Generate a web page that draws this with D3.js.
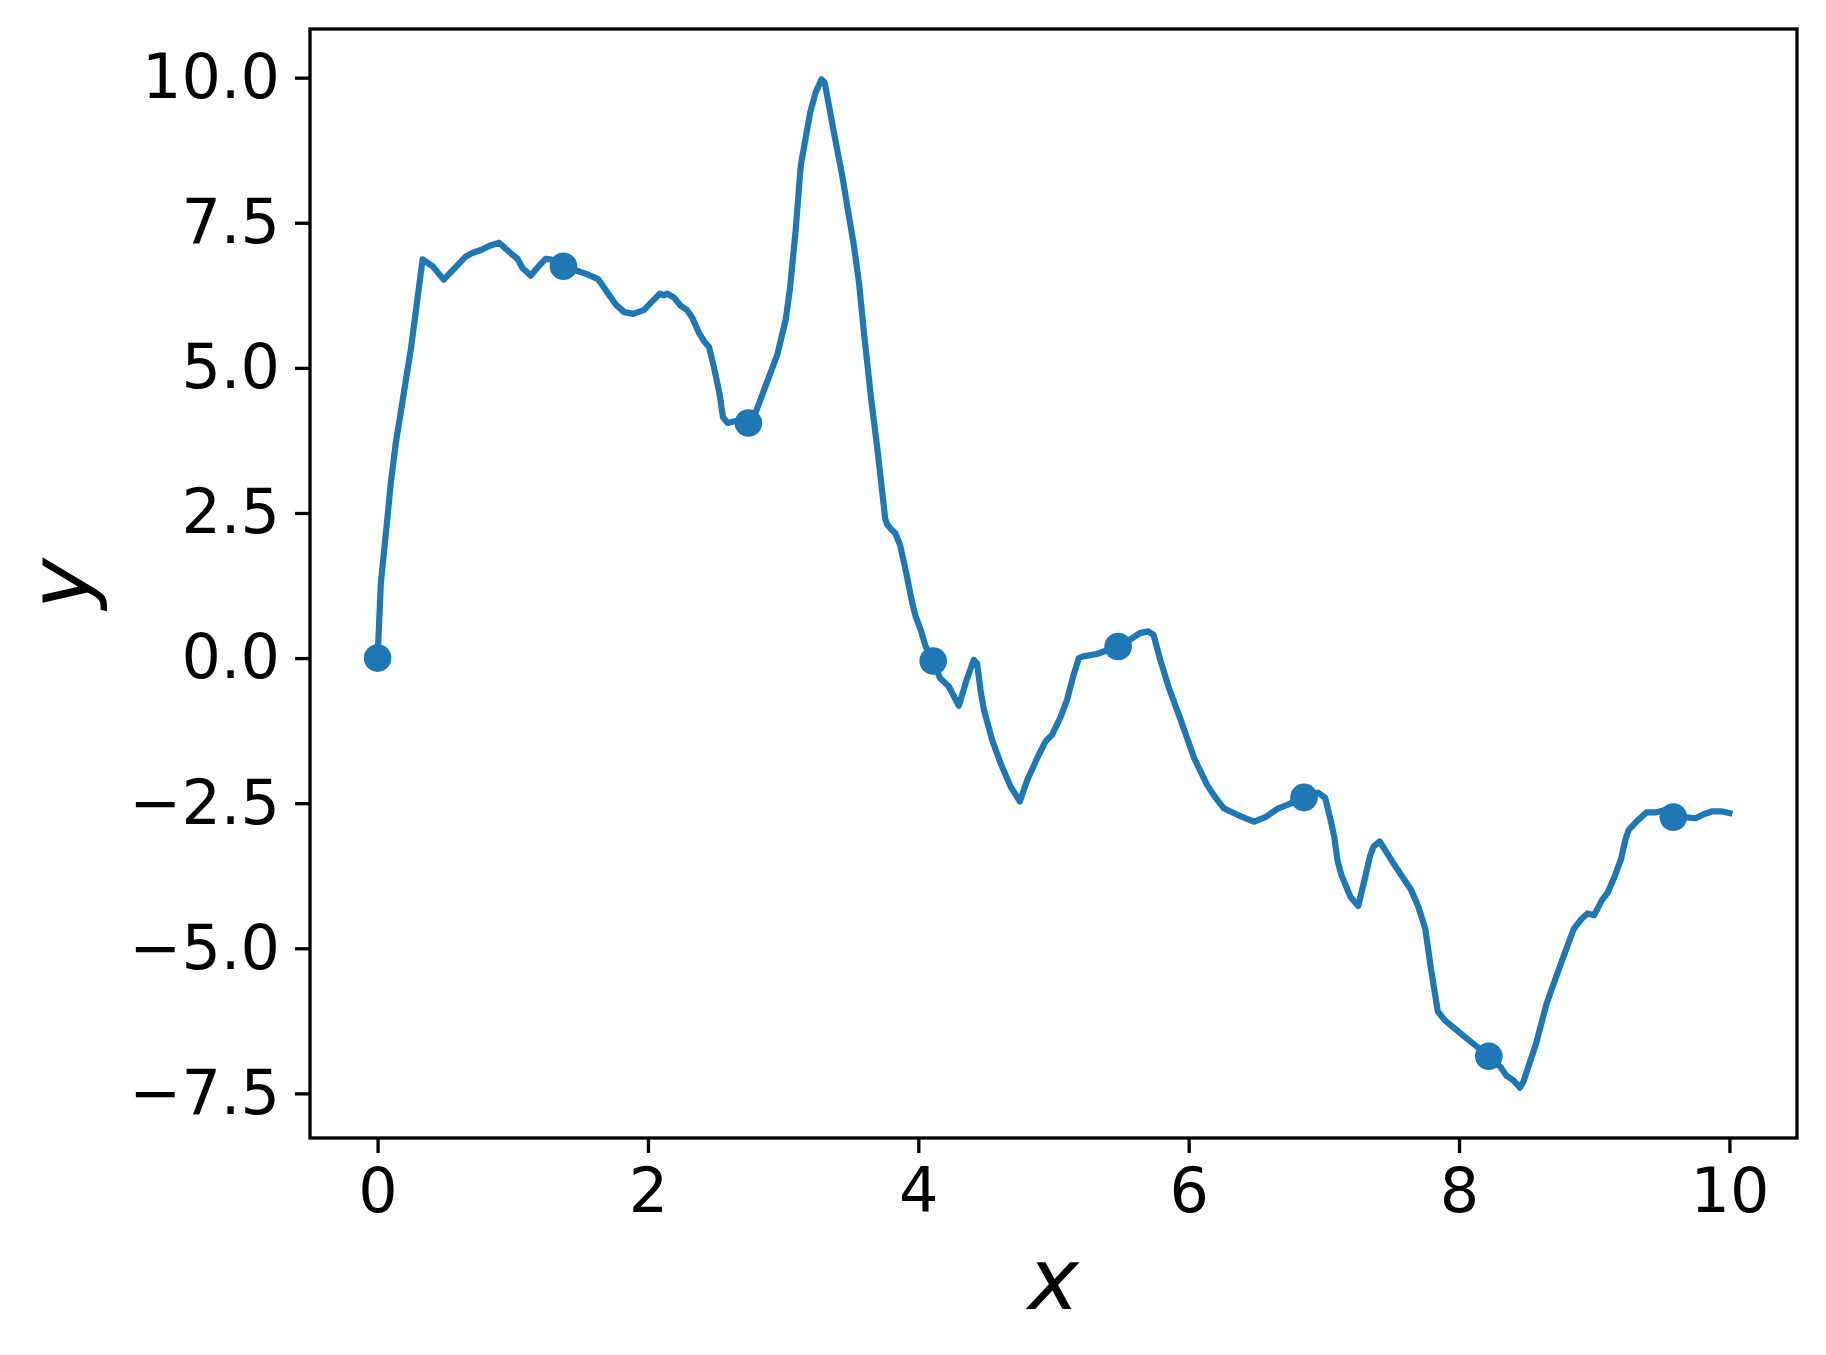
<!DOCTYPE html>
<html>
<head>
<meta charset="utf-8">
<script src="https://cdn.jsdelivr.net/npm/d3@7"></script>
<style>
  body { margin: 0; background: #fff; }
  svg { display: block; font-family: "DejaVu Sans", sans-serif; }
</style>
</head>
<body>
<svg></svg>
<script>
// Data

let lineX = [0, 0.024, 0.069, 0.098, 0.135, 0.167, 0.246, 0.333, 0.407, 0.49,
  0.653, 0.70, 0.764, 0.825, 0.899, 0.973, 1.035, 1.072, 1.133, 1.195,
  1.244, 1.28, 1.375, 1.479, 1.553, 1.631, 1.688, 1.762, 1.824, 1.893,
  1.971, 2.033, 2.089, 2.12, 2.144, 2.193, 2.242, 2.287, 2.329, 2.378,
  2.415, 2.452, 2.489, 2.53, 2.555, 2.59, 2.64, 2.743, 2.80, 2.88,
  2.957, 3.019, 3.05, 3.093, 3.13, 3.167, 3.20, 3.24, 3.283, 3.307,
  3.376, 3.438, 3.487, 3.524, 3.561, 3.598, 3.652, 3.70, 3.755, 3.77,
  3.80, 3.83, 3.865, 3.906, 3.955, 3.98, 4.017, 4.054, 4.11, 4.16,
  4.226, 4.25, 4.30, 4.35, 4.41, 4.435, 4.46, 4.485, 4.546, 4.608,
  4.682, 4.751, 4.806, 4.83, 4.88, 4.94, 4.99, 5.05, 5.10, 5.145,
  5.187, 5.22, 5.32, 5.478, 5.58, 5.64, 5.70, 5.74, 5.79, 5.85,
  5.94, 6.04, 6.135, 6.20, 6.26, 6.36, 6.486, 6.575, 6.655, 6.73,
  6.853, 6.958, 7.01, 7.05, 7.077, 7.10, 7.13, 7.196, 7.254, 7.306,
  7.34, 7.367, 7.413, 7.513, 7.645, 7.698, 7.75, 7.79, 7.843, 7.895,
  8.04, 8.146, 8.22, 8.305, 8.352, 8.40, 8.45, 8.476, 8.57, 8.648,
  8.754, 8.846, 8.90, 8.95, 9.00, 9.057, 9.097, 9.15, 9.20, 9.23,
  9.255, 9.32, 9.386, 9.453, 9.52, 9.585, 9.664, 9.75, 9.81, 9.876,
  9.94, 10.0];

let lineY = [0, 1.29, 2.33, 3.02, 3.71, 4.17, 5.32, 6.87, 6.75, 6.52,
  6.92, 6.98, 7.03, 7.10, 7.155, 7.00, 6.88, 6.72, 6.59, 6.76,
  6.88, 6.87, 6.75, 6.67, 6.61, 6.53, 6.34, 6.09, 5.96, 5.93,
  6.00, 6.15, 6.28, 6.25, 6.28, 6.21, 6.07, 6.00, 5.86, 5.60,
  5.46, 5.36, 5.00, 4.55, 4.15, 4.05, 4.08, 4.05, 4.25, 4.75,
  5.23, 5.83, 6.35, 7.38, 8.48, 8.97, 9.40, 9.74, 9.97, 9.92,
  9.05, 8.30, 7.61, 7.10, 6.47, 5.60, 4.45, 3.55, 2.40, 2.30,
  2.22, 2.15, 1.95, 1.52, 0.95, 0.72, 0.49, 0.20, -0.05, -0.345,
  -0.49, -0.60, -0.82, -0.43, -0.03, -0.09, -0.55, -0.89, -1.41, -1.81,
  -2.21, -2.47, -2.10, -1.98, -1.72, -1.44, -1.32, -1.03, -0.72, -0.32,
  0.00, 0.03, 0.07, 0.20, 0.34, 0.43, 0.46, 0.40, -0.03, -0.49,
  -1.06, -1.72, -2.18, -2.41, -2.59, -2.70, -2.82, -2.73, -2.60, -2.53,
  -2.40, -2.32, -2.41, -2.79, -3.08, -3.48, -3.74, -4.11, -4.27, -3.77,
  -3.42, -3.25, -3.16, -3.53, -3.99, -4.28, -4.66, -5.32, -6.09, -6.24,
  -6.52, -6.72, -6.86, -7.04, -7.20, -7.27, -7.40, -7.30, -6.64, -5.95,
  -5.26, -4.68, -4.51, -4.40, -4.43, -4.17, -4.05, -3.77, -3.45, -3.13,
  -2.96, -2.80, -2.66, -2.66, -2.62, -2.74, -2.74, -2.76, -2.69, -2.64,
  -2.64, -2.67];

// every marked point
let markerX = [0, 1.375, 2.743, 4.11, 5.478, 6.853, 8.22, 9.585];
let markerY = [0, 6.75, 4.05, -0.05, 0.20, -2.40, -6.86, -2.74];

let xTicks = [0, 2, 4, 6, 8, 10];
let yTicks = [-7.5, -5, -2.5, 0, 2.5, 5, 7.5, 10];

let xLabel = 'x';
let yLabel = 'y';

// Layout

let width = 1826;
let height = 1355;
let margin = {top: 29, right: 29, bottom: 217, left: 310};
let color = '#1f77b4';

let svg = d3.select('svg')
  .attr('width', width)
  .attr('height', height);

// matplotlib style 5% margins
let pad = (ext) => {
  let d = (ext[1] - ext[0]) * 0.05;
  return [ext[0] - d, ext[1] + d];
};

let x = d3.scaleLinear()
  .domain(pad(d3.extent(lineX)))
  .range([margin.left, width - margin.right]);

let y = d3.scaleLinear()
  .domain(pad(d3.extent(lineY)))
  .range([height - margin.bottom, margin.top]);

let points = lineX.map((d, i) => [d, lineY[i]]);
let markers = markerX.map((d, i) => [d, markerY[i]]);

// the line
svg.append('path')
  .datum(points)
  .attr('fill', 'none')
  .attr('stroke', color)
  .attr('stroke-width', 6.2)
  .attr('stroke-linejoin', 'round')
  .attr('stroke-linecap', 'square')
  .attr('d', d3.line()
    .x(d => x(d[0]))
    .y(d => y(d[1])));

// markers
svg.selectAll('circle.marker')
  .data(markers)
  .enter()
  .append('circle')
    .classed('marker', true)
    .attr('cx', d => x(d[0]))
    .attr('cy', d => y(d[1]))
    .attr('r', 13.8)
    .attr('fill', color);

// axes
let xAxis = svg.append('g')
  .attr('transform', `translate(0,${height - margin.bottom})`)
  .call(d3.axisBottom(x)
    .tickValues(xTicks)
    .tickFormat(d3.format('d'))
    .tickSize(15)
    .tickPadding(15));

let yAxis = svg.append('g')
  .attr('transform', `translate(${margin.left},0)`)
  .call(d3.axisLeft(y)
    .tickValues(yTicks)
    .tickFormat(d3.format('.1f'))
    .tickSize(15)
    .tickPadding(15));

[xAxis, yAxis].forEach(g => {
  g.select('.domain').remove();
  g.selectAll('.tick line')
    .attr('stroke', '#000')
    .attr('stroke-width', 3.3);
  g.selectAll('.tick text')
    .attr('fill', '#000')
    .style('font-size', '62px')
    .style('font-family', '"DejaVu Sans", sans-serif');
});

// frame
svg.append('rect')
  .attr('x', margin.left)
  .attr('y', margin.top)
  .attr('width', width - margin.left - margin.right)
  .attr('height', height - margin.top - margin.bottom)
  .attr('fill', 'none')
  .attr('stroke', '#000')
  .attr('stroke-width', 3.3);

// axis labels
svg.append('text')
  .attr('x', (margin.left + width - margin.right) / 2)
  .attr('y', 1309)
  .attr('text-anchor', 'middle')
  .style('font-size', '86px')
  .style('font-style', 'italic')
  .text(xLabel);

svg.append('text')
  .attr('transform', `translate(89,${(margin.top + height - margin.bottom) / 2}) rotate(-90)`)
  .attr('text-anchor', 'middle')
  .style('font-size', '86px')
  .style('font-style', 'italic')
  .text(yLabel);
</script>
</body>
</html>
